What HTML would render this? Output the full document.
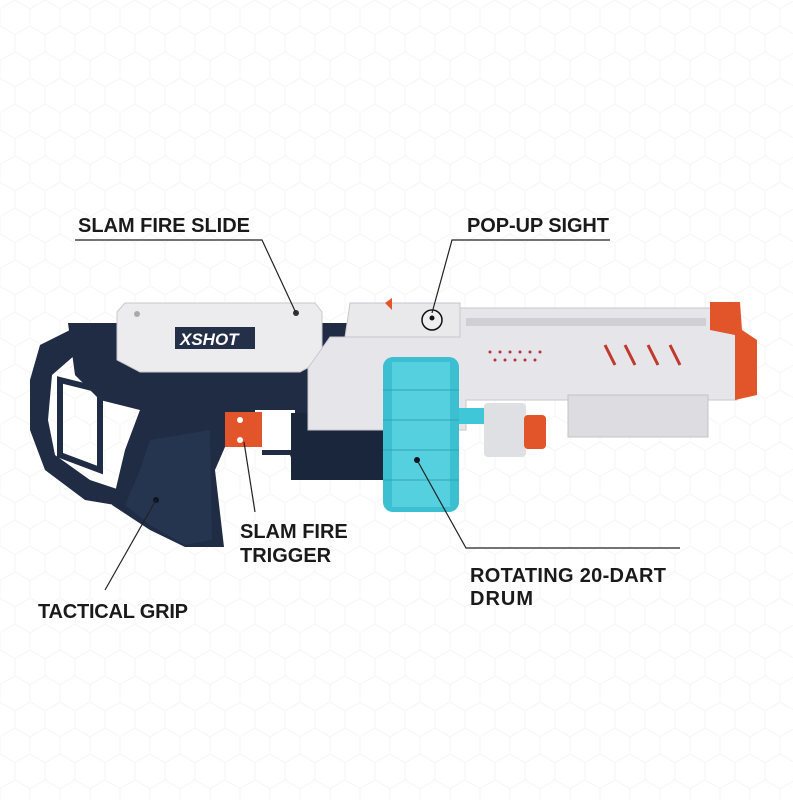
<!DOCTYPE html>
<html><head><meta charset="utf-8"><style>
html,body{margin:0;padding:0;background:#fff;}
svg{display:block}
text{font-family:"Liberation Sans",sans-serif;font-weight:bold;font-size:20px;fill:#1a1a1a}
</style></head><body>
<svg width="793" height="800" viewBox="0 0 793 800" xmlns="http://www.w3.org/2000/svg">
<defs>
<pattern id="hex" width="30" height="52" patternUnits="userSpaceOnUse">
<path d="M15 0 L30 8.7 L30 26 L15 34.7 L0 26 L0 8.7 Z M15 34.7 L15 52" fill="none" stroke="#f5f5f5" stroke-width="1"/>
</pattern>
</defs>
<rect width="793" height="800" fill="#fff"/>
<rect width="793" height="800" fill="url(#hex)"/>

<!-- stock frame -->
<path d="M70 330 L40 345 L30 380 L30 430 L45 470 L85 500 L115 505 L120 490 L90 480 L55 455 L48 420 L52 375 L75 355 Z" fill="#1f2c44"/>
<path d="M60 380 L100 390 L100 470 L60 455 Z" fill="none" stroke="#1f2c44" stroke-width="6"/>
<!-- dark body -->
<path d="M68 323 L388 323 L388 480 L300 480 L290 455 L262 455 L262 447 L225 447 L215 470 L224 547 L185 547 L150 530 L112 505 L125 450 L140 410 L100 400 L75 375 Z" fill="#1f2c44"/>
<path d="M150 440 L210 430 L212 540 L185 545 L150 525 L125 505 L140 470 Z" fill="#25344f"/>
<circle cx="156" cy="500" r="3" fill="#0d1320"/>
<!-- trigger opening -->
<rect x="255" y="410" width="40" height="40" fill="#fff"/>
<path d="M225 412 L262 412 L262 447 L225 447 Z" fill="#e2542a"/>
<circle cx="240" cy="420" r="3" fill="#fff"/><circle cx="240" cy="440" r="3" fill="#fff"/>
<rect x="291" y="413" width="92" height="67" fill="#1a263b"/>
<!-- white slide -->
<path d="M117 312 L125 303 L315 303 L322 312 L322 360 L300 372 L140 372 L117 360 Z" fill="#ececee" stroke="#c9c9cd"/>
<rect x="175" y="327" width="80" height="22" fill="#243048"/>
<text x="180" y="345" style="font-size:17px;fill:#fff;font-style:italic">XSHOT</text>
<circle cx="137" cy="314" r="3" fill="#aaa"/><circle cx="296" cy="313" r="3" fill="#333"/>
<!-- front receiver -->
<path d="M308 368 L330 337 L456 337 L456 308 L718 308 L737 330 L737 400 L708 400 L708 437 L568 437 L568 400 L466 400 L466 430 L308 430 Z" fill="#e6e5ea" stroke="#c7c6cc"/>
<path d="M350 303 L460 303 L460 337 L345 337 Z" fill="#e9e9ec" stroke="#c7c6cc"/>
<rect x="466" y="318" width="240" height="8" fill="#cfcfd4"/>
<g stroke="#c0392b" stroke-width="3">
<line x1="605" y1="345" x2="615" y2="365"/><line x1="625" y1="345" x2="635" y2="365"/><line x1="648" y1="345" x2="658" y2="365"/><line x1="670" y1="345" x2="680" y2="365"/>
</g>
<g fill="#b8323a"><circle cx="490" cy="352" r="1.5"/><circle cx="500" cy="352" r="1.5"/><circle cx="510" cy="352" r="1.5"/><circle cx="520" cy="352" r="1.5"/><circle cx="530" cy="352" r="1.5"/><circle cx="540" cy="352" r="1.5"/><circle cx="495" cy="360" r="1.5"/><circle cx="505" cy="360" r="1.5"/><circle cx="515" cy="360" r="1.5"/><circle cx="525" cy="360" r="1.5"/><circle cx="535" cy="360" r="1.5"/></g>
<rect x="568" y="395" width="140" height="42" fill="#dcdce1" stroke="#c3c3c8"/>
<path d="M710 302 L740 302 L742 330 L757 340 L757 395 L735 400 L735 335 L710 330 Z" fill="#e2542a"/>
<path d="M385 303 L392 298 L392 310 Z" fill="#e2542a"/>
<rect x="456" y="408" width="30" height="16" fill="#3fc7d8"/>
<rect x="484" y="403" width="42" height="54" rx="4" fill="#dfe0e4"/>
<rect x="524" y="415" width="22" height="34" rx="4" fill="#e2542a"/>
<!-- drum -->
<rect x="383" y="357" width="76" height="155" rx="10" fill="#3cbfd0"/>
<rect x="392" y="362" width="58" height="145" fill="#55d0de"/>
<g stroke="#2ea4b4" stroke-width="1"><line x1="383" y1="390" x2="459" y2="390"/><line x1="383" y1="420" x2="459" y2="420"/><line x1="383" y1="450" x2="459" y2="450"/><line x1="383" y1="480" x2="459" y2="480"/></g>
<circle cx="417" cy="460" r="3" fill="#0d1320"/>
<circle cx="432" cy="320" r="10" fill="#eee" stroke="#111" stroke-width="1.5"/>
<circle cx="432" cy="318" r="2.5" fill="#111"/>

<g stroke="#222" stroke-width="1.2" fill="none">
<polyline points="75,240 262,240 296,313"/>
<polyline points="610,240 452,240 432,313"/>
<line x1="244" y1="442" x2="255" y2="512"/>
<polyline points="417,460 466,548 680,548"/>
<line x1="156" y1="500" x2="105" y2="590"/>
</g>

<text x="78" y="232" textLength="172">SLAM FIRE SLIDE</text>
<text x="467" y="232" textLength="142">POP-UP SIGHT</text>
<text x="240" y="538">SLAM FIRE</text>
<text x="240" y="562">TRIGGER</text>
<text x="470" y="582" textLength="196">ROTATING 20-DART</text>
<text x="470" y="605" textLength="63">DRUM</text>
<text x="38" y="618" textLength="150">TACTICAL GRIP</text>
</svg>
</body></html>
